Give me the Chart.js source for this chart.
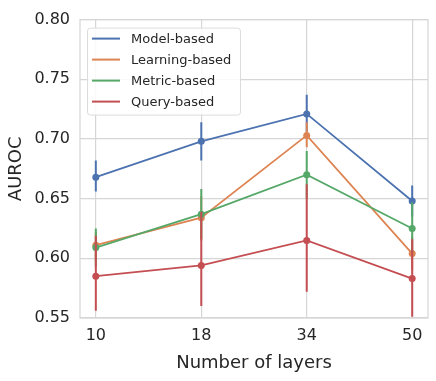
<!DOCTYPE html>
<html>
<head>
<meta charset="utf-8">
<script src="https://cdn.jsdelivr.net/npm/chart.js@4"></script>
<style>
  html, body { margin: 0; padding: 0; background: #fff; }
  #wrap { width: 436px; height: 381px; }
</style>
</head>
<body>
<div id="wrap"><canvas id="chart"></canvas></div>
<script>
const layers = ["10", "18", "34", "50"];
const seriesNames = ["Model-based", "Learning-based", "Metric-based", "Query-based"];
const seriesColors = ["#4C72B0", "#DD8452", "#55A868", "#C44E52"];

const modelMean = [0.668, 0.698, 0.721, 0.648];
const modelLow  = [0.656, 0.682, 0.706, 0.635];
const modelHigh = [0.682, 0.714, 0.737, 0.661];

const learnMean = [0.611, 0.634, 0.703, 0.604];
const learnLow  = [0.598, 0.615, 0.693, 0.590];
const learnHigh = [0.622, 0.652, 0.714, 0.618];

const metricMean = [0.609, 0.637, 0.670, 0.625];
const metricLow  = [0.593, 0.616, 0.650, 0.605];
const metricHigh = [0.625, 0.658, 0.690, 0.647];

const queryMean = [0.585, 0.594, 0.615, 0.583];
const queryLow  = [0.556, 0.560, 0.572, 0.551];
const queryHigh = [0.619, 0.639, 0.662, 0.616];

const yTicks = [0.55, 0.60, 0.65, 0.70, 0.75, 0.80];

const means = [modelMean, learnMean, metricMean, queryMean];
const lows = [modelLow, learnLow, metricLow, queryLow];
const highs = [modelHigh, learnHigh, metricHigh, queryHigh];

const textColor = "#262626";
const gridColor = "#d6d6d6";
const fontFamily = "'DejaVu Sans', sans-serif";

// error bars drawn right after each dataset so layering matches
const errorBars = {
  id: "errorBars",
  afterDatasetDraw(chart, args) {
    const i = args.index;
    const ctx = chart.ctx;
    const x = chart.scales.x, y = chart.scales.y;
    ctx.save();
    ctx.beginPath();
    ctx.rect(chart.chartArea.left, chart.chartArea.top, chart.chartArea.width, chart.chartArea.height);
    ctx.clip();
    ctx.strokeStyle = seriesColors[i];
    ctx.lineWidth = 2;
    for (let j = 0; j < layers.length; j++) {
      const px = x.getPixelForValue(j);
      ctx.beginPath();
      ctx.moveTo(px, y.getPixelForValue(lows[i][j]));
      ctx.lineTo(px, y.getPixelForValue(highs[i][j]));
      ctx.stroke();
    }
    ctx.restore();
  }
};

// frame around the plot + legend box inside the plot
const frameAndLegend = {
  id: "frameAndLegend",
  afterDraw(chart) {
    const ctx = chart.ctx;
    const a = chart.chartArea;
    ctx.save();
    ctx.strokeStyle = gridColor;
    ctx.lineWidth = 1.2;
    ctx.strokeRect(a.left, a.top, a.right - a.left, a.bottom - a.top);

    const bx = a.left + 7, by = a.top + 8, bw = 153, bh = 87;
    ctx.fillStyle = "rgba(255,255,255,0.85)";
    ctx.strokeStyle = "#dcdcdc";
    ctx.lineWidth = 1;
    ctx.beginPath();
    ctx.roundRect(bx + 0.5, by + 0.5, bw, bh, 3);
    ctx.fill();
    ctx.stroke();

    ctx.font = "13px " + fontFamily;
    ctx.textBaseline = "middle";
    ctx.fillStyle = textColor;
    seriesNames.forEach((name, i) => {
      const ly = by + 11 + i * 21;
      ctx.strokeStyle = seriesColors[i];
      ctx.lineWidth = 2;
      ctx.beginPath();
      ctx.moveTo(bx + 5, ly);
      ctx.lineTo(bx + 33, ly);
      ctx.stroke();
      ctx.fillText(name, bx + 44, ly + 1);
    });
    ctx.restore();
  }
};

const datasets = seriesNames.map((name, i) => ({
  label: name,
  data: means[i].map((v, j) => ({ x: j, y: v })),
  borderColor: seriesColors[i],
  backgroundColor: seriesColors[i],
  borderWidth: 1.8,
  pointRadius: 3.5,
  pointBorderWidth: 0,
  tension: 0,
  order: seriesNames.length - 1 - i
}));

new Chart(document.getElementById("chart"), {
  type: "line",
  data: { datasets },
  plugins: [errorBars, frameAndLegend],
  options: {
    responsive: true,
    maintainAspectRatio: false,
    animation: false,
    layout: { padding: { top: 14, right: 8, left: 0, bottom: 0 } },
    plugins: {
      legend: { display: false },
      tooltip: { enabled: false }
    },
    scales: {
      x: {
        type: "linear",
        min: -0.15,
        max: 3.15,
        afterBuildTicks(scale) {
          scale.ticks = layers.map((_, i) => ({ value: i }));
        },
        afterFit(scale) { scale.height = 63; },
        border: { display: false },
        grid: { color: gridColor, lineWidth: 1.2, drawTicks: false },
        ticks: {
          padding: 8,
          color: textColor,
          font: { family: fontFamily, size: 16 },
          callback: (v) => layers[v]
        },
        title: {
          display: true,
          text: "Number of layers",
          color: textColor,
          font: { family: fontFamily, size: 18 },
          padding: { top: 4, bottom: 7 }
        }
      },
      y: {
        min: 0.55,
        max: 0.80,
        afterBuildTicks(scale) {
          scale.ticks = yTicks.map(v => ({ value: v }));
        },
        afterFit(scale) { scale.width = 80; },
        border: { display: false },
        grid: { color: gridColor, lineWidth: 1.2, drawTicks: false },
        ticks: {
          padding: 10,
          color: textColor,
          font: { family: fontFamily, size: 16 },
          callback: (v) => v.toFixed(2)
        },
        title: {
          display: true,
          text: "AUROC",
          color: textColor,
          font: { family: fontFamily, size: 18 },
          padding: { top: 6, bottom: 0 }
        }
      }
    }
  }
});
</script>
</body>
</html>
